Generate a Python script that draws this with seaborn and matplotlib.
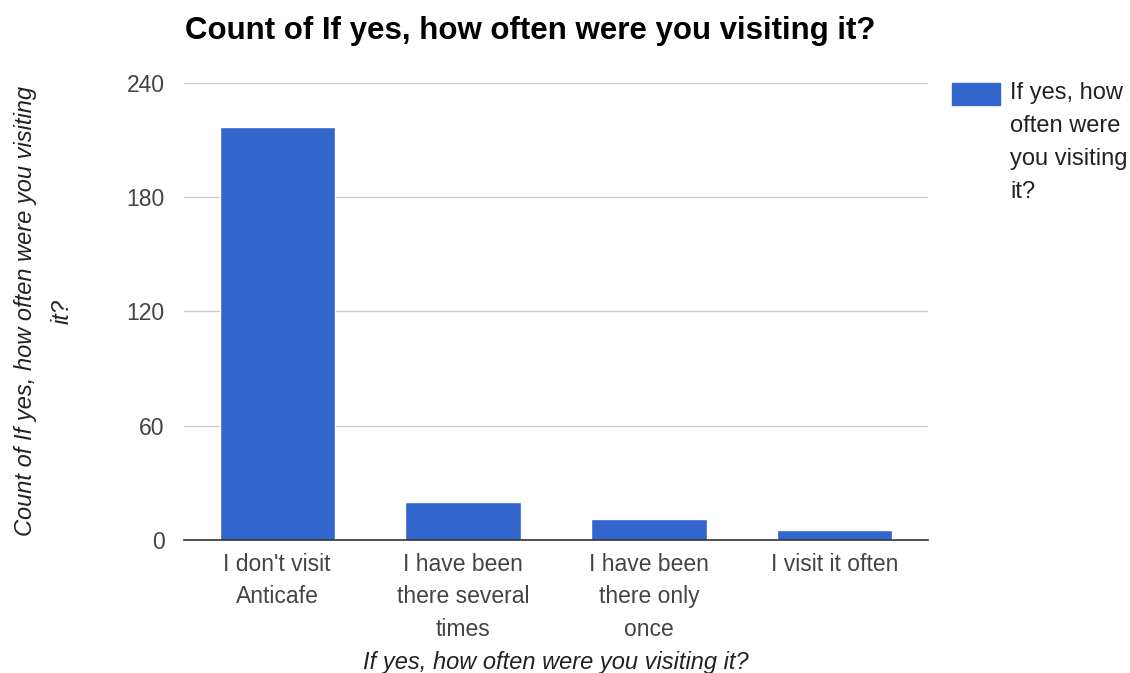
import matplotlib
matplotlib.use("Agg")
import matplotlib.pyplot as plt
import matplotlib.patches as mpatches
import seaborn as sns
import pandas as pd

categories = ["I don't visit\nAnticafe", "I have been\nthere several\ntimes",
              "I have been\nthere only\nonce", "I visit it often"]
counts = [217, 20, 11, 5]
y_ticks = [0, 60, 120, 180, 240]

series_name = "If yes, how often were you visiting it?"
bar_color = "#3366CC"

sns.set_theme(style="white")
plt.rcParams["font.family"] = ["Liberation Sans", "DejaVu Sans"]

df = pd.DataFrame({"answer": categories, "count": counts})

fig = plt.figure(figsize=(11.3, 6.73), dpi=100)
ax = fig.add_axes([0.163, 0.1976, 0.658, 0.6791])

sns.barplot(data=df, x="answer", y="count", color=bar_color, saturation=1,
            width=0.62, ax=ax, zorder=3)

ax.set_ylim(0, 240)
ax.set_yticks(y_ticks)
ax.set_xlim(-0.5, len(categories) - 0.5)
ax.yaxis.grid(True, color="#cccccc", linewidth=1, zorder=0)
ax.xaxis.grid(False)
for side in ["top", "right", "left"]:
    ax.spines[side].set_visible(False)
ax.spines["bottom"].set_color("#333333")
ax.spines["bottom"].set_linewidth(1.2)
ax.spines["bottom"].set_zorder(4)
ax.tick_params(axis="both", length=0, labelsize=16.5, colors="#444444")
ax.tick_params(axis="y", pad=14)
ax.tick_params(axis="x", pad=9)
for lbl in ax.get_xticklabels():
    lbl.set_linespacing(1.55)

ax.set_xlabel("If yes, how often were you visiting it?", fontsize=17,
              style="italic", color="#222222")
ax.xaxis.set_label_coords(0.5, -0.243)
ax.set_ylabel("Count of If yes, how often were you visiting\nit?", fontsize=17,
              style="italic", color="#222222", linespacing=1.75)
ax.yaxis.set_label_coords(-0.149, 0.5)

fig.text(0.164, 1 - 31 / 673, "Count of If yes, how often were you visiting it?",
         fontsize=22.5, fontweight="bold", color="#000000", va="center", ha="left")

# legend box at the right
fig.patches.append(mpatches.Rectangle((952 / 1130, 1 - 105 / 673), 48 / 1130, 22 / 673,
                                      transform=fig.transFigure, color=bar_color))
fig.text(1010 / 1130, 1 - 82 / 673, "If yes, how\noften were\nyou visiting\nit?",
         fontsize=17, color="#222222", va="top", ha="left", linespacing=1.64)

fig.savefig("out.png", dpi=100)
